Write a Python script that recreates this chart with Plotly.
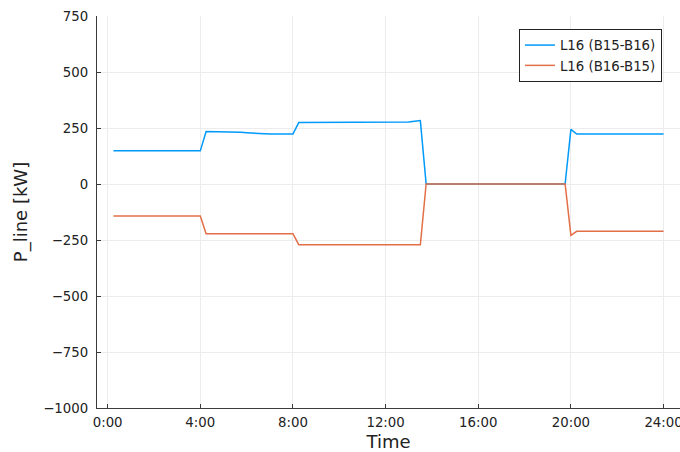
import plotly.graph_objects as go

# time in hours (15-minute steps)
hours = [0.25, 0.5, 0.75, 1.0, 1.25, 1.5, 1.75, 2.0, 2.25, 2.5, 2.75, 3.0, 3.25, 3.5, 3.75, 4.0,
         4.25, 4.5, 4.75, 5.0, 5.25, 5.5, 5.75, 6.0, 6.25, 6.5, 6.75, 7.0, 7.25, 7.5, 7.75, 8.0,
         8.25, 8.5, 8.75, 9.0, 9.25, 9.5, 9.75, 10.0, 10.25, 10.5, 10.75, 11.0, 11.25, 11.5, 11.75, 12.0,
         12.25, 12.5, 12.75, 13.0, 13.25, 13.5, 13.75, 14.0, 14.25, 14.5, 14.75, 15.0, 15.25, 15.5, 15.75, 16.0,
         16.25, 16.5, 16.75, 17.0, 17.25, 17.5, 17.75, 18.0, 18.25, 18.5, 18.75, 19.0, 19.25, 19.5, 19.75, 20.0,
         20.25, 20.5, 20.75, 21.0, 21.25, 21.5, 21.75, 22.0, 22.25, 22.5, 22.75, 23.0, 23.25, 23.5, 23.75, 24.0]

p_b15_b16 = [148, 148, 148, 148, 148, 148, 148, 148, 148, 148, 148, 148, 148, 148, 148, 148,
             234, 234, 234, 234, 233, 232, 231, 229, 227, 225, 224, 223, 223, 223, 223, 223,
             274, 274, 274, 274, 274, 274, 274, 274, 274, 274, 274, 274, 274, 274, 274, 274,
             274, 274, 275, 277, 280, 283, 0, 0, 0, 0, 0, 0, 0, 0, 0, 0,
             0, 0, 0, 0, 0, 0, 0, 0, 0, 0, 0, 0, 0, 0, 0, 244,
             223, 223, 223, 223, 223, 223, 223, 223, 223, 223, 223, 223, 223, 223, 223, 223]

p_b16_b15 = [-143, -143, -143, -143, -143, -143, -143, -143, -143, -143, -143, -143, -143, -143, -143, -143,
             -222, -222, -222, -222, -222, -222, -222, -222, -222, -222, -222, -222, -222, -222, -222, -222,
             -271, -271, -271, -271, -271, -271, -271, -271, -271, -271, -271, -271, -271, -271, -271, -271,
             -271, -271, -271, -271, -271, -271, 0, 0, 0, 0, 0, 0, 0, 0, 0, 0,
             0, 0, 0, 0, 0, 0, 0, 0, 0, 0, 0, 0, 0, 0, 0, -229,
             -211, -211, -211, -211, -211, -211, -211, -211, -211, -211, -211, -211, -211, -211, -211, -211]

series_names = ["L16 (B15-B16)", "L16 (B16-B15)"]
x_tick_vals = [0, 4, 8, 12, 16, 20, 24]
x_tick_text = ["0:00", "4:00", "8:00", "12:00", "16:00", "20:00", "24:00"]
y_tick_vals = [-1000, -750, -500, -250, 0, 250, 500, 750]
y_tick_text = ["\u22121000", "\u2212750", "\u2212500", "\u2212250", "0", "250", "500", "750"]

FONT = "DejaVu Sans"
AX = "#3a3a3a"
TXT = "#222222"
TICK_SIZE = 13.3
TITLE_SIZE = 18

fig = go.Figure()
fig.add_trace(go.Scatter(x=hours, y=p_b15_b16, mode="lines", name=series_names[0],
                         line=dict(color="#009AFA", width=1.5)))
fig.add_trace(go.Scatter(x=hours, y=p_b16_b15, mode="lines", name=series_names[1],
                         line=dict(color="#E36F47", width=1.5)))

fig.update_layout(
    width=680, height=452,
    margin=dict(l=97, r=0, t=16, b=44, autoexpand=False),
    plot_bgcolor="white", paper_bgcolor="white",
    font=dict(family=FONT, color=TXT, size=12),
    showlegend=True,
    legend=dict(x=0.969, y=0.967, xanchor="right", yanchor="top",
                bgcolor="white", bordercolor=TXT, borderwidth=1,
                font=dict(family=FONT, size=TICK_SIZE, color=TXT),
                itemwidth=30, tracegroupgap=0),
    xaxis=dict(range=[-0.46, 24.71], tickmode="array", tickvals=x_tick_vals, ticktext=x_tick_text,
               automargin=False, ticklabeloverflow="allow", ticklabelstandoff=2,
               showline=True, linecolor=AX, linewidth=1.3, mirror=False,
               ticks="inside", ticklen=4, tickcolor=AX, tickwidth=1,
               showgrid=True, gridcolor="#ececec", gridwidth=1, zeroline=False,
               tickfont=dict(family=FONT, size=TICK_SIZE, color=TXT),
               title=dict(text="Time", font=dict(family=FONT, size=TITLE_SIZE, color=TXT), standoff=6)),
    yaxis=dict(range=[-1000, 750], tickmode="array", tickvals=y_tick_vals, ticktext=y_tick_text,
               automargin=False, ticklabelstandoff=5,
               showline=True, linecolor=AX, linewidth=1.3, mirror=False,
               ticks="inside", ticklen=4, tickcolor=AX, tickwidth=1,
               showgrid=True, gridcolor="#ececec", gridwidth=1, zeroline=False,
               tickfont=dict(family=FONT, size=TICK_SIZE, color=TXT),
               title=dict(text="P_line [kW]", font=dict(family=FONT, size=TITLE_SIZE, color=TXT), standoff=10)),
)

fig.write_html("out.html", config={"displayModeBar": False},
               post_script=["document.body.style.margin='0';"])
